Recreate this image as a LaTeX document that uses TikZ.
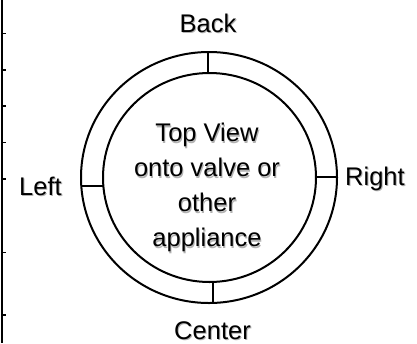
\documentclass[tikz,border=0pt]{standalone}
\usepackage{fontspec}
\setmainfont{Liberation Sans}
\usetikzlibrary{shapes.geometric}
\newcommand\shd[1]{\rlap{\kern1pt\raisebox{-1.3pt}{\textcolor{black!30}{#1}}}#1}
\begin{document}
\begin{tikzpicture}[x=1pt,y=-1pt,
  ring/.style={draw,ellipse,line width=2pt,inner sep=0pt},
  tick/.style={line width=2pt},
  lbl/.style={font=\fontsize{25.5}{35}\selectfont,inner sep=0pt,anchor=base}]
\useasboundingbox (0,0) rectangle (417,343);
% left ruler
\coordinate (rt) at (2,0);
\coordinate (rb) at (2,343);
\draw[line width=2pt] (rt) -- (rb);
\foreach \y in {33.3,69.7,106,142.3,179,252.3,314.7}
  \draw[line width=1.6pt] (2,\y) -- (5.5,\y);
% rings
\node[ring,minimum width=256pt,minimum height=251pt] (outer) at (209,177.5) {};
\node[ring,minimum width=213pt,minimum height=209pt] (inner) at (209.5,177.5) {};
% ticks
\coordinate (tb1) at (208,52.3);
\coordinate (tb2) at (208,73.3);
\draw[tick] (tb1) -- (tb2);
\coordinate (tc1) at (213,281.8);
\coordinate (tc2) at (213,302.8);
\draw[tick] (tc1) -- (tc2);
\coordinate (tl1) at (81.3,186);
\coordinate (tl2) at (103.3,186);
\draw[tick] (tl1) -- (tl2);
\coordinate (tr1) at (316,177);
\coordinate (tr2) at (337,177);
\draw[tick] (tr1) -- (tr2);
% labels
\node[lbl] (back) at (208,32) {\shd{Back}};
\node[lbl] (center) at (212.5,339) {\shd{Center}};
\node[lbl] (left) at (40.5,195) {\shd{Left}};
\node[lbl] (right) at (375,185) {\shd{Right}};
\node[font=\fontsize{25.5}{35}\selectfont,align=center,inner sep=0pt,anchor=center] (main) at (207,188.5)
  {\shd{Top View}\\\shd{onto valve or}\\\shd{other}\\\shd{appliance}};
\end{tikzpicture}
\end{document}
